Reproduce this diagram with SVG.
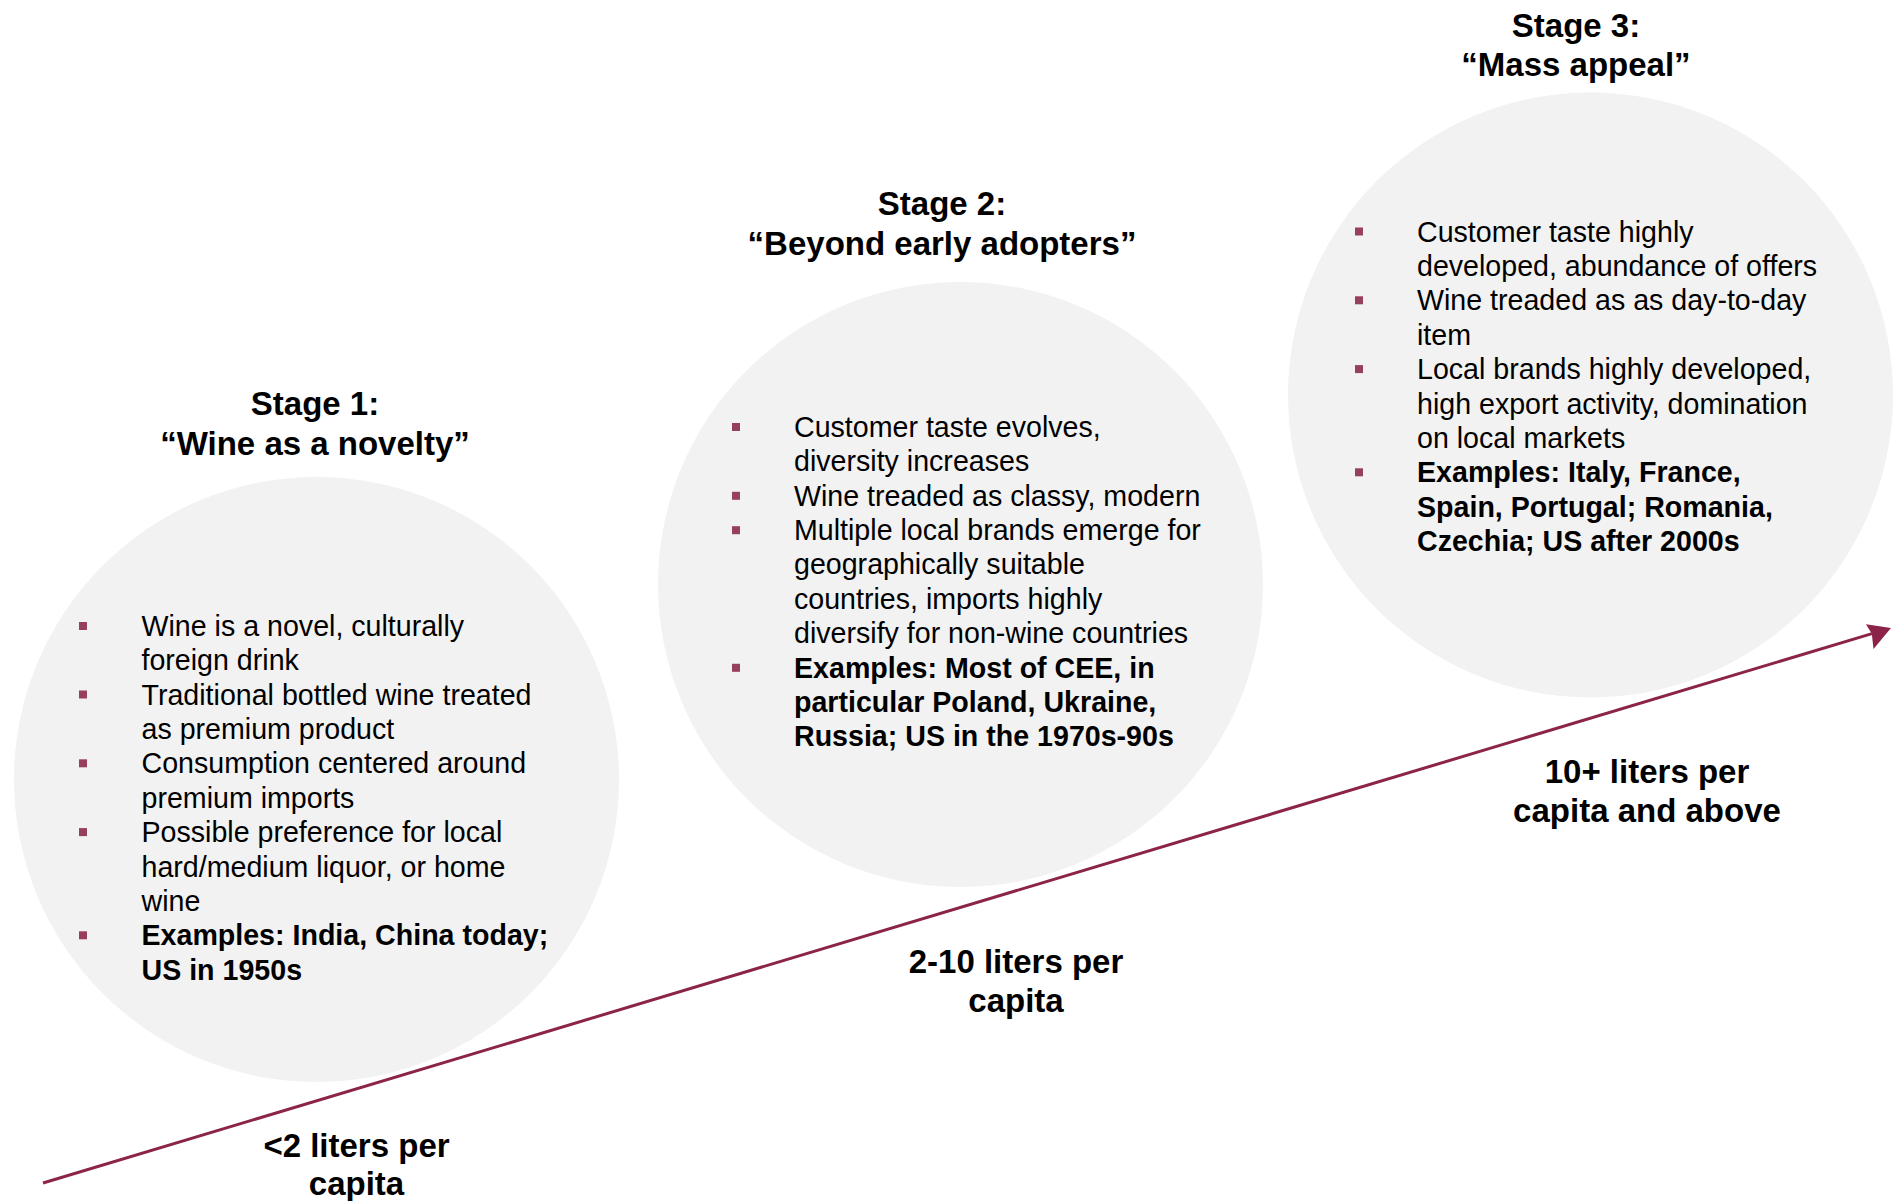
<svg xmlns="http://www.w3.org/2000/svg" width="1893" height="1201" viewBox="0 0 1893 1201">
<style>
.circ{fill:#f2f2f2}
.ttl{font-family:"Liberation Sans",Arial,sans-serif;font-weight:bold;font-size:33px;fill:#000;text-anchor:middle}
.body{font-family:"Liberation Sans",Arial,sans-serif;font-size:28.6px;fill:#000}
.b{font-weight:bold}
.bul{fill:#963f5f}
.conn{stroke:#8c2449;stroke-width:3;fill:none}
</style>
<rect width="1893" height="1201" fill="#fff"/>
<g id="stage1">
<circle class="circ" cx="316.5" cy="779.5" r="302.5"/>
<text class="ttl" x="315" y="415">Stage 1:</text>
<text class="ttl" x="315" y="455">“Wine as a novelty”</text>
<rect class="bul" x="79" y="622" width="8" height="8"/>
<rect class="bul" x="79" y="690.5" width="8" height="8"/>
<rect class="bul" x="79" y="759.3" width="8" height="8"/>
<rect class="bul" x="79" y="828.1" width="8" height="8"/>
<rect class="bul" x="79" y="931.3" width="8" height="8"/>
<text class="body" x="141.5" y="635.7">Wine is a novel, culturally</text>
<text class="body" x="141.5" y="670.1">foreign drink</text>
<text class="body" x="141.5" y="704.5">Traditional bottled wine treated</text>
<text class="body" x="141.5" y="738.9">as premium product</text>
<text class="body" x="141.5" y="773.3">Consumption centered around</text>
<text class="body" x="141.5" y="807.7">premium imports</text>
<text class="body" x="141.5" y="842.1">Possible preference for local</text>
<text class="body" x="141.5" y="876.5">hard/medium liquor, or home</text>
<text class="body" x="141.5" y="910.9">wine</text>
<text class="body b" x="141.5" y="945.3">Examples: India, China today;</text>
<text class="body b" x="141.5" y="979.7">US in 1950s</text>
</g>
<g id="stage2">
<circle class="circ" cx="960.5" cy="584.5" r="302.5"/>
<text class="ttl" x="942" y="215">Stage 2:</text>
<text class="ttl" x="942" y="255">“Beyond early adopters”</text>
<rect class="bul" x="732" y="423" width="8" height="8"/>
<rect class="bul" x="732" y="491.8" width="8" height="8"/>
<rect class="bul" x="732" y="526.2" width="8" height="8"/>
<rect class="bul" x="732" y="663.8" width="8" height="8"/>
<text class="body" x="794" y="436.7">Customer taste evolves,</text>
<text class="body" x="794" y="471.1">diversity increases</text>
<text class="body" x="794" y="505.5">Wine treaded as classy, modern</text>
<text class="body" x="794" y="539.9">Multiple local brands emerge for</text>
<text class="body" x="794" y="574.3">geographically suitable</text>
<text class="body" x="794" y="608.7">countries, imports highly</text>
<text class="body" x="794" y="643.1">diversify for non-wine countries</text>
<text class="body b" x="794" y="677.5">Examples: Most of CEE, in</text>
<text class="body b" x="794" y="711.9">particular Poland, Ukraine,</text>
<text class="body b" x="794" y="746.3">Russia; US in the 1970s-90s</text>
</g>
<g id="stage3">
<circle class="circ" cx="1590.5" cy="395" r="302.5"/>
<text class="ttl" x="1576" y="37">Stage 3:</text>
<text class="ttl" x="1576" y="76">“Mass appeal”</text>
<rect class="bul" x="1355" y="227.5" width="8" height="8"/>
<rect class="bul" x="1355" y="296.3" width="8" height="8"/>
<rect class="bul" x="1355" y="365.1" width="8" height="8"/>
<rect class="bul" x="1355" y="468.3" width="8" height="8"/>
<text class="body" x="1417" y="241.5">Customer taste highly</text>
<text class="body" x="1417" y="275.9">developed, abundance of offers</text>
<text class="body" x="1417" y="310.3">Wine treaded as as day-to-day</text>
<text class="body" x="1417" y="344.7">item</text>
<text class="body" x="1417" y="379.1">Local brands highly developed,</text>
<text class="body" x="1417" y="413.5">high export activity, domination</text>
<text class="body" x="1417" y="447.9">on local markets</text>
<text class="body b" x="1417" y="482.3">Examples: Italy, France,</text>
<text class="body b" x="1417" y="516.7">Spain, Portugal; Romania,</text>
<text class="body b" x="1417" y="551.1">Czechia; US after 2000s</text>
</g>
<g id="connectors">
<line class="conn" x1="43" y1="1183" x2="1872" y2="633.6"/>
<path d="M1891,628 L1866,624.2 L1871.8,633.8 L1873.5,649.1 Z" fill="#8c2449"/>
</g>
<g id="labels">
<text class="ttl" x="356.5" y="1157">&lt;2 liters per</text>
<text class="ttl" x="356.5" y="1195">capita</text>
<text class="ttl" x="1016" y="973">2-10 liters per</text>
<text class="ttl" x="1016" y="1012">capita</text>
<text class="ttl" x="1647" y="783">10+ liters per</text>
<text class="ttl" x="1647" y="822">capita and above</text>
</g>
</svg>
